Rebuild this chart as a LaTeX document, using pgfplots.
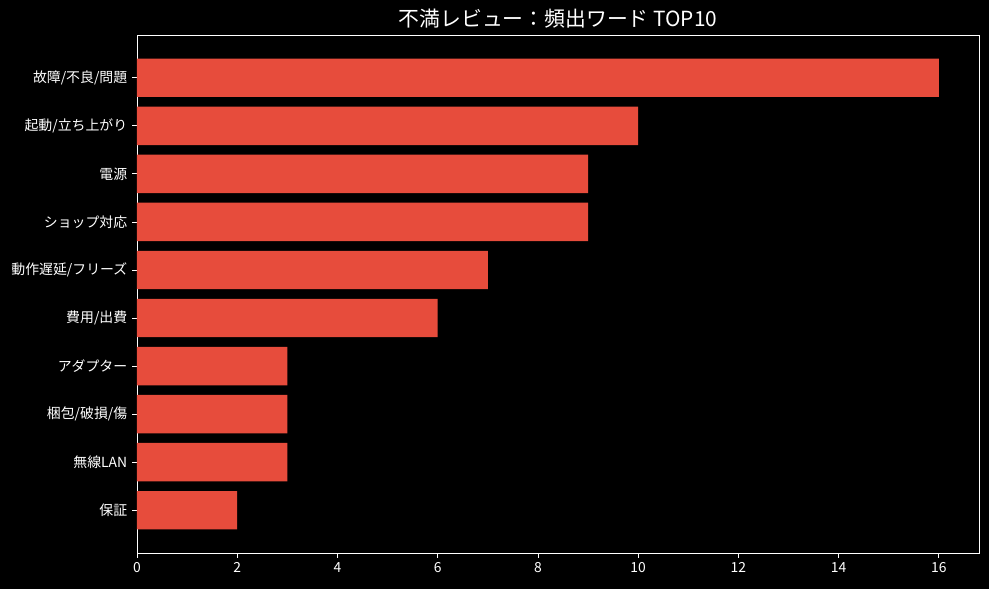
\documentclass[border=0pt]{standalone}
\usepackage{pgfplots}
\pgfplotsset{compat=1.18}
\usepackage{fontspec}
\setmainfont{Noto Sans CJK JP}
\definecolor{barred}{RGB}{231,76,60}
\begin{document}
\begin{tikzpicture}[x=1pt,y=1pt]
\fill[black] (-98.64,-25.92) rectangle (613.44,398.16);
\begin{axis}[
  at={(0,0)}, anchor=south west,
  scale only axis, width=606.24pt, height=372.96pt,
  xbar, bar width=0.8, bar shift=0pt,
  xmin=0, xmax=16.8, ymin=-0.89, ymax=9.89,
  xtick={0,2,...,16},
  ytick={0,...,9},
  yticklabels={保証,無線LAN,梱包/破損/傷,アダプター,費用/出費,動作遅延/フリーズ,ショップ対応,電源,起動/立ち上がり,故障/不良/問題},
  axis line style={white, line width=0.6pt},
  tick style={white, line width=0.6pt},
  tick align=outside, major tick length=3.5pt,
  xtick pos=bottom, ytick pos=left,
  ticklabel style={font=\fontsize{10}{12}\selectfont, text=white},
  /pgf/number format/assume math mode=true,
  title={不満レビュー：頻出ワード TOP10},
  title style={font=\fontsize{15}{18}\selectfont, text=white, yshift=-5pt},
  axis background/.style={fill=black},
]
\addplot[fill=barred, draw=none] coordinates {
(2,0) (3,1) (3,2) (3,3) (6,4) (7,5) (9,6) (9,7) (10,8) (16,9)
};
\end{axis}
\end{tikzpicture}
\end{document}
